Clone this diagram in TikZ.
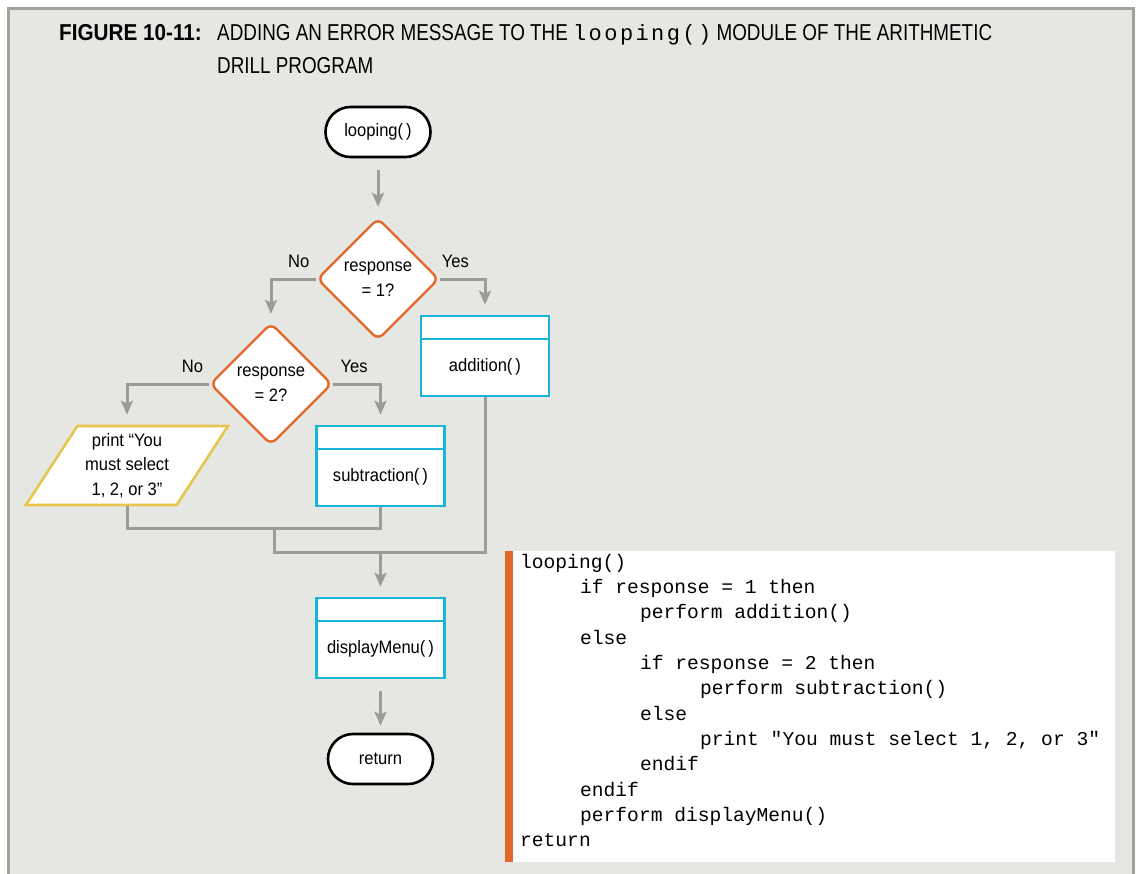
\documentclass[tikz,border=0pt]{standalone}
\usepackage{fontspec}
\usepackage{tikz}
\usetikzlibrary{positioning,arrows.meta,shapes.geometric}

\newfontfamily\capfont[FakeStretch=0.82]{Liberation Sans}
\newfontfamily\figfont[FakeStretch=0.9]{Liberation Sans}
\newfontfamily\nodefont[FakeStretch=0.92]{Liberation Sans}
\newfontfamily\codefamily{Liberation Mono}
\newfontfamily\titlemono[LetterSpace=11]{Liberation Mono}
\newcommand*{\codefont}{\codefamily\fontsize{19.6}{25.36}\selectfont}
% fixed-width blanks for the listing
\newcommand*{\codeindent}{\hspace*{60pt}}
\newcommand*{\codegap}{\hspace*{0.6em}}

\definecolor{panel}{HTML}{E6E6E3}
\definecolor{framegray}{HTML}{A3A39E}
\definecolor{flowgray}{HTML}{9C9C96}
\definecolor{decor}{HTML}{E2692A}
\definecolor{modline}{HTML}{1BB3D8}
\definecolor{ioline}{HTML}{E8C54D}

\begin{document}
\begin{tikzpicture}[x=1pt, y=-1pt,
    every node/.style={font=\nodefont\fontsize{18}{25}\selectfont},
    term/.style={draw=black, line width=2.6pt, fill=white, rounded corners=25pt,
        minimum width=105pt, minimum height=50pt},
    decide/.style={diamond, draw=decor, line width=2.4pt, fill=white,
        rounded corners=7pt, minimum width=122pt, minimum height=122pt,
        inner sep=0pt, align=center},
    modbox/.style={draw=modline, line width=2.6pt, fill=white,
        minimum width=128pt, minimum height=80pt, text height=36pt, text depth=5pt,
        path picture={\draw[modline, line width=2.6pt]
            ([yshift=-23pt]path picture bounding box.north west) --
            ([yshift=-23pt]path picture bounding box.north east);}},
    iobox/.style={trapezium, trapezium left angle=56.6, trapezium right angle=123.4,
        trapezium stretches=true, draw=ioline, line width=2.6pt, fill=white,
        minimum width=202pt, minimum height=79pt, align=center,
        font=\nodefont\fontsize{18}{24.5}\selectfont},
    link/.style={draw=flowgray, line width=3pt},
    flow/.style={link, -{Stealth[length=14pt,width=12pt,inset=3pt]}, shorten >=10pt},
    listing/.style={fill=white, minimum width=602pt, minimum height=311pt, inner sep=0pt}
]
\useasboundingbox (0,0) rectangle (1138,873);
\fill[white] (0,0) rectangle (1138,873);
\filldraw[fill=panel, draw=framegray, line width=2.6pt]
    (8.5,885) -- (8.5,8.5) -- (1133.5,8.5) -- (1133.5,885);

% caption
\node[anchor=base east, inner sep=0pt, font=\figfont\bfseries\fontsize{23}{28}\selectfont]
    (fig) at (202,40) {FIGURE 10-11:};
\node[anchor=base west, inner sep=0pt, font=\capfont\fontsize{23}{28}\selectfont]
    (cap1) at (217,40) {ADDING AN ERROR MESSAGE TO THE
    {\titlemono\fontsize{22}{24}\selectfont looping()}
    MODULE OF THE ARITHMETIC};
\node[anchor=base west, inner sep=0pt, font=\capfont\fontsize{23}{28}\selectfont]
    (cap2) at (217,73) {DRILL PROGRAM};

% flowchart
\node[term] (top) at (378,132) {looping(\,)};
\node[decide] (dec1) at (378,279) {response\\= 1?};
\node[modbox] (add) at (485,356) {addition(\,)};
\node[decide] (dec2) at (271,384) {response\\= 2?};
\node[modbox] (sub) at (380.5,466) {subtraction(\,)};
\node[iobox] (msg) at (127,465.5) {print “You\\must select\\1, 2, or 3”};
\node[modbox] (disp) at (380.5,638) {displayMenu(\,)};
\node[term] (ret) at (380.5,759) {return};

\coordinate (j1) at (274,528);
\coordinate (j2) at (274,552);
\coordinate (j3) at (380.5,552);

\draw[flow, shorten <=12pt] (top) -- (dec1);
\draw[flow, shorten >=8pt] (dec1.west) -| node[pos=0.19, above=6pt] {No} (dec2);
\draw[flow] (dec1.east) -| node[pos=0.17, above=6pt] {Yes} (add);
\draw[flow] (dec2.west) -| node[pos=0.1, above=6pt] {No} (msg);
\draw[flow] (dec2.east) -| node[pos=0.22, above=6pt] {Yes} (sub);
\draw[link] (msg.south) |- (j1) -| (sub.south);
\draw[link] (j1) -- (j2) -| (add.south);
\draw[flow] (j3) -- (disp);
\draw[flow, shorten <=12pt, shorten >=7pt] (disp) -- (ret);

% pseudocode
\node[listing] (code) at (814,706.5) {};
\fill[decor] ([xshift=-8pt]code.north west) rectangle (code.south west);
\node[anchor=base west, inner sep=0pt, text width=592pt, font=\codefont]
    (src) at (520,568) {looping()\\
\codeindent if\codegap response\codegap =\codegap 1\codegap then\\
\codeindent\codeindent perform\codegap addition()\\
\codeindent else\\
\codeindent\codeindent if\codegap response\codegap =\codegap 2\codegap then\\
\codeindent\codeindent\codeindent perform\codegap subtraction()\\
\codeindent\codeindent else\\
\codeindent\codeindent\codeindent print\codegap "You\codegap must\codegap
    select\codegap 1,\codegap 2,\codegap or\codegap 3"\\
\codeindent\codeindent endif\\
\codeindent endif\\
\codeindent perform\codegap displayMenu()\\
return};
\end{tikzpicture}
\end{document}
